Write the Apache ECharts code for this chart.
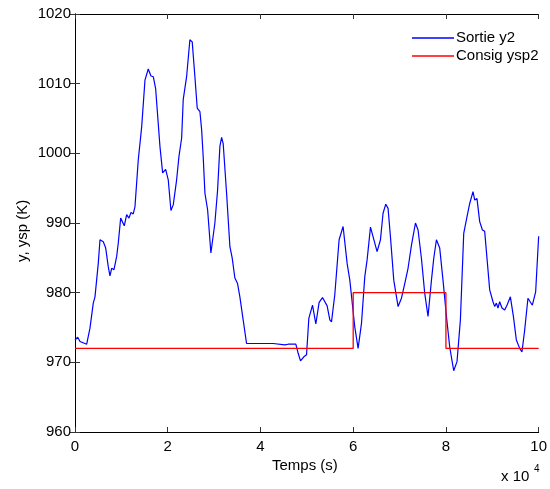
<!DOCTYPE html>
<html><head><meta charset="utf-8">
<script src="https://cdn.jsdelivr.net/npm/echarts@6/dist/echarts.min.js"></script>
<style>html,body{margin:0;padding:0;background:#fff}#c{width:550px;height:489px}</style>
</head><body><div id="c"></div>
<script>
// time in units of 1e4 s
const outTime = [0,0.058,0.108,0.252,0.287,0.323,0.360,0.394,0.431,0.502,0.539,0.610,0.662,0.718,0.754,0.791,0.841,0.899,0.933,0.985,1.019,1.063,1.114,1.164,1.207,1.256,1.293,1.364,1.438,1.509,1.580,1.638,1.688,1.739,1.832,1.890,1.955,2.011,2.069,2.119,2.192,2.241,2.300,2.334,2.407,2.478,2.528,2.586,2.636,2.694,2.731,2.765,2.802,2.860,2.931,2.959,3.017,3.075,3.125,3.162,3.196,3.269,3.341,3.390,3.448,3.506,3.556,3.627,3.700,4.0,4.274,4.526,4.597,4.763,4.813,4.864,4.935,4.994,5.043,5.123,5.194,5.265,5.338,5.438,5.496,5.532,5.603,5.696,5.782,5.869,5.927,6.034,6.106,6.179,6.250,6.300,6.373,6.515,6.588,6.644,6.703,6.752,6.804,6.875,6.968,7.041,7.075,7.112,7.183,7.256,7.343,7.399,7.472,7.543,7.614,7.688,7.737,7.795,7.866,7.937,8.011,8.082,8.140,8.168,8.239,8.312,8.384,8.455,8.513,8.584,8.621,8.670,8.728,8.787,8.836,8.944,9.015,9.052,9.088,9.123,9.159,9.209,9.267,9.317,9.390,9.455,9.519,9.591,9.640,9.698,9.769,9.864,9.935,10.0];
const outValue = [973.2,973.6,973.0,972.6,972.5,974.9,975.1,978.5,979.4,984.2,987.6,987.3,986.4,983.7,982.4,983.5,983.3,985.2,987.1,990.7,990.7,989.6,991.2,990.7,991.5,991.3,992.3,999.0,1003.8,1010.5,1012.1,1011.1,1011.0,1009.3,1001.0,997.2,997.7,996.2,991.8,992.6,996.2,999.5,1002.2,1007.7,1011.0,1016.3,1016.0,1011.0,1006.5,1006.0,1003.4,999.5,994.3,991.9,985.7,985.5,990.0,994.7,1001.0,1002.3,1001.4,994.3,986.6,985.0,982.1,981.3,979.4,976.1,972.7,972.7,972.7,972.5,972.6,972.6,971.3,970.2,970.8,971.1,976.3,978.2,975.5,978.6,979.3,978.1,976.1,975.8,979.7,987.6,989.5,984.2,981.8,975.1,972.0,975.6,982.3,984.7,989.4,985.9,987.6,991.4,992.7,992.1,988.0,981.8,978.0,979.2,979.1,981.3,983.5,986.8,990.0,989.0,984.9,979.9,976.6,981.8,984.9,987.6,986.4,981.8,976.6,972.2,969.9,968.8,970.1,976.1,988.5,990.9,992.8,994.5,993.3,993.5,990.2,989.0,988.8,980.4,978.7,978.0,978.5,977.8,978.7,977.8,977.5,978.2,979.4,976.6,973.2,972.0,971.5,974.6,979.2,978.2,980.1,988.1];
const spTime = [0,6.0,6.0,8.0,8.0,10.0];
const spValue = [972,972,980,980,972,972];
const xTicks = [0,2,4,6,8,10];
const yMin = 960, yMax = 1020, yStep = 10;

const pair = (a,b)=>a.map((t,i)=>[t,b[i]]);
const font = 'Liberation Sans, Arial, sans-serif';
const chart = echarts.init(document.getElementById('c'));
const baseX = {type:'value', min:0, max:10, interval:2,
  axisLine:{show:true,lineStyle:{color:'#000',width:1}},
  axisTick:{show:true,inside:true,length:5,lineStyle:{color:'#333'}},
  splitLine:{show:false}};
const baseY = {type:'value', min:yMin, max:yMax, interval:yStep,
  axisLine:{show:true,lineStyle:{color:'#000',width:1}},
  axisTick:{show:true,inside:true,length:5,lineStyle:{color:'#333'}},
  splitLine:{show:false}};
chart.setOption({
  animation:false,
  grid:{left:75,right:11,top:14,bottom:57},
  xAxis:[
    Object.assign({},baseX,{position:'bottom',axisLabel:{color:'#000',fontSize:15,fontFamily:font,margin:7,
      formatter:v=>xTicks.includes(v)?String(v):''}}),
    Object.assign({},baseX,{position:'top',axisLabel:{show:false}})
  ],
  yAxis:[
    Object.assign({},baseY,{position:'left',axisLabel:{color:'#000',fontSize:15,fontFamily:font,margin:4,
      formatter:v=>String(v)}}),
    Object.assign({},baseY,{position:'right',axisLabel:{show:false}})
  ],
  legend:{show:true, orient:'vertical', left:407, top:25, itemWidth:42, itemHeight:1.5, itemGap:2,
    icon:'rect',
    textStyle:{color:'#000',fontSize:15,fontFamily:font,padding:[0,0,0,-3],lineHeight:16},
    data:['Sortie y2','Consig ysp2']},
  series:[
    {name:'Sortie y2',type:'line',data:pair(outTime,outValue),symbol:'none',
      lineStyle:{color:'#0000ff',width:1.2},itemStyle:{color:'#0000ff'}},
    {name:'Consig ysp2',type:'line',data:pair(spTime,spValue),symbol:'none',
      lineStyle:{color:'#ff0000',width:1.3},itemStyle:{color:'#ff0000'}}
  ],
  graphic:[
    {type:'text',left:272,top:458,style:{text:'Temps (s)',font:'15px '+font,fill:'#000'}},
    {type:'text',x:15,y:262,rotation:Math.PI/2,style:{text:'y, ysp (K)',font:'15px '+font,fill:'#000'}},
    {type:'text',left:501,top:469,style:{text:'x 10',font:'15px '+font,fill:'#000'}},
    {type:'text',left:534,top:464,style:{text:'4',font:'10px '+font,fill:'#000'}}
  ]
});
</script></body></html>
